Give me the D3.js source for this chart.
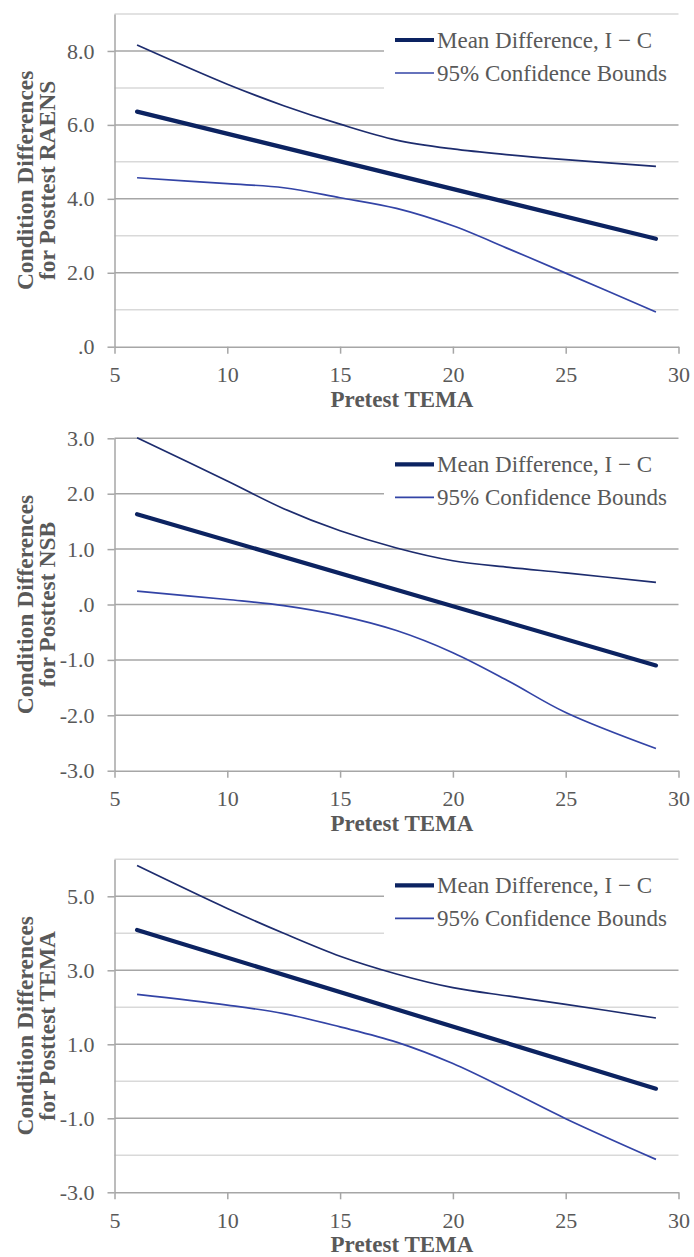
<!DOCTYPE html>
<html>
<head>
<meta charset="utf-8">
<script src="https://cdn.jsdelivr.net/npm/d3@7"></script>
<style>
  body { margin: 0; background: #ffffff; }
  svg { display: block; }
</style>
</head>
<body>
<script>
// ---------------- data ----------------
const xTicks = [5, 10, 15, 20, 25, 30];
const xTitle = "Pretest TEMA";
const yTitleLine1 = "Condition Differences";
const yTitleLine2 = ["for Posttest RAENS", "for Posttest NSB", "for Posttest TEMA"];
const legendLabels = ["Mean Difference, I \u2212 C", "95% Confidence Bounds"];

const boundX = [6, 10, 12.5, 15, 17.5, 20, 22.5, 25, 29];
const meanX = [6, 29];

// Panel 1: RAENS
const raensMean  = [6.36, 2.92];
const raensUpper = [8.16, 7.10, 6.52, 6.02, 5.59, 5.35, 5.19, 5.06, 4.88];
const raensLower = [4.57, 4.41, 4.30, 4.03, 3.74, 3.27, 2.64, 1.99, 0.94];
const raensMajor = [0, 2, 4, 6, 8];
const raensMajorLabels = [".0", "2.0", "4.0", "6.0", "8.0"];
const raensMinor = [1, 3, 5, 7, 9];
const raensDomain = [0, 9];

// Panel 2: NSB
const nsbMean  = [1.63, -1.10];
const nsbUpper = [3.01, 2.23, 1.73, 1.33, 1.02, 0.79, 0.67, 0.57, 0.40];
const nsbLower = [0.24, 0.09, -0.02, -0.20, -0.47, -0.87, -1.39, -1.95, -2.60];
const nsbMajor = [-3, -2, -1, 0, 1, 2, 3];
const nsbMajorLabels = ["-3.0", "-2.0", "-1.0", ".0", "1.0", "2.0", "3.0"];
const nsbMinor = [];
const nsbDomain = [-3, 3];

// Panel 3: TEMA
const temaMean  = [4.09, -0.20];
const temaUpper = [5.83, 4.67, 4.00, 3.38, 2.90, 2.53, 2.30, 2.08, 1.71];
const temaLower = [2.35, 2.06, 1.83, 1.47, 1.06, 0.48, -0.25, -1.01, -2.11];
const temaMajor = [-3, -1, 1, 3, 5];
const temaMajorLabels = ["-3.0", "-1.0", "1.0", "3.0", "5.0"];
const temaMinor = [-2, 0, 2, 4, 6];
const temaDomain = [-3, 6];

// ---------------- layout & style ----------------
const W = 694, H = 1257;
const plotLeft = 114.5, plotRight = 678.5;
const panels = [
  { top: 14,    bottom: 346.7,  domain: raensDomain, major: raensMajor, labels: raensMajorLabels, minor: raensMinor, title2: yTitleLine2[0], mean: raensMean, upper: raensUpper, lower: raensLower },
  { top: 438.3, bottom: 770.7,  domain: nsbDomain,   major: nsbMajor,   labels: nsbMajorLabels,   minor: nsbMinor,   title2: yTitleLine2[1], mean: nsbMean,   upper: nsbUpper,   lower: nsbLower },
  { top: 859.3, bottom: 1192.3, domain: temaDomain,  major: temaMajor,  labels: temaMajorLabels,  minor: temaMinor,  title2: yTitleLine2[2], mean: temaMean,  upper: temaUpper,  lower: temaLower }
];

const textColor = "#595959";
const majorGrid = "#a6a6a6";
const minorGrid = "#d9d9d9";
const axisColor = "#a6a6a6";
const meanColor = "#0c2361";
const upperColor = "#1d2c6e";
const lowerColor = "#3344a6";
const serif = "'Liberation Serif', 'Times New Roman', Times, serif";

const svg = d3.select("body").append("svg")
  .attr("width", W).attr("height", H)
  .attr("viewBox", `0 0 ${W} ${H}`);

const x = d3.scaleLinear().domain([5, 30]).range([plotLeft, plotRight]);

panels.forEach((p) => {
  const y = d3.scaleLinear().domain(p.domain).range([p.bottom, p.top]);
  const g = svg.append("g");

  // minor gridlines
  g.append("g").selectAll("line").data(p.minor).join("line")
    .attr("x1", plotLeft).attr("x2", plotRight)
    .attr("y1", d => y(d)).attr("y2", d => y(d))
    .attr("stroke", minorGrid).attr("stroke-width", 1.5);

  // major gridlines (except the one on the x axis)
  g.append("g").selectAll("line").data(p.major.filter(d => d !== p.domain[0])).join("line")
    .attr("x1", plotLeft).attr("x2", plotRight)
    .attr("y1", d => y(d)).attr("y2", d => y(d))
    .attr("stroke", majorGrid).attr("stroke-width", 1.5);

  // legend background (hides gridlines)
  const legTop = p.top;
  g.append("rect")
    .attr("x", 384).attr("y", legTop + 3)
    .attr("width", plotRight - 384 + 2).attr("height", 80)
    .attr("fill", "#ffffff");

  // y axis
  const yAxis = d3.axisLeft(y)
    .tickValues(p.major)
    .tickFormat((d, i) => p.labels[i])
    .tickSize(7).tickSizeOuter(0).tickPadding(13);
  const ya = g.append("g").attr("transform", `translate(${plotLeft},0)`).call(yAxis);
  ya.select(".domain").attr("stroke", axisColor).attr("stroke-width", 1.5);
  ya.selectAll(".tick line").attr("stroke", axisColor).attr("stroke-width", 1.5);
  ya.selectAll(".tick text").attr("fill", textColor)
    .style("font-family", serif).style("font-size", "22px");

  // x axis
  const xAxis = d3.axisBottom(x)
    .tickValues(xTicks).tickFormat(d3.format("d"))
    .tickSize(7).tickSizeOuter(0).tickPadding(13);
  const xa = g.append("g").attr("transform", `translate(0,${p.bottom})`).call(xAxis);
  xa.select(".domain").attr("stroke", axisColor).attr("stroke-width", 1.5);
  xa.selectAll(".tick line").attr("stroke", axisColor).attr("stroke-width", 1.5);
  xa.selectAll(".tick text").attr("fill", textColor)
    .style("font-family", serif).style("font-size", "22px");

  // x title
  g.append("text")
    .attr("x", 402).attr("y", p.bottom + 60)
    .attr("text-anchor", "middle")
    .attr("fill", textColor)
    .style("font-family", serif).style("font-size", "23px").style("font-weight", "bold")
    .text(xTitle);

  // y title (two lines, rotated)
  const cy = (p.top + p.bottom) / 2;
  const yt = g.append("text")
    .attr("transform", "rotate(-90)")
    .attr("text-anchor", "middle")
    .attr("fill", textColor)
    .style("font-family", serif).style("font-size", "23.5px").style("font-weight", "bold");
  yt.append("tspan").attr("x", -cy).attr("y", 33).text(yTitleLine1);
  yt.append("tspan").attr("x", -cy).attr("y", 55).text(p.title2);

  // series
  const curve = d3.line().x(d => x(d[0])).y(d => y(d[1])).curve(d3.curveCatmullRom.alpha(0.5));
  g.append("path")
    .attr("d", curve(d3.zip(boundX, p.upper)))
    .attr("fill", "none").attr("stroke", upperColor).attr("stroke-width", 1.7);
  g.append("path")
    .attr("d", curve(d3.zip(boundX, p.lower)))
    .attr("fill", "none").attr("stroke", lowerColor).attr("stroke-width", 1.7);
  g.append("path")
    .attr("d", d3.line().x(d => x(d[0])).y(d => y(d[1]))(d3.zip(meanX, p.mean)))
    .attr("fill", "none").attr("stroke", meanColor).attr("stroke-width", 4.2)
    .attr("stroke-linecap", "round");

  // legend
  const legItems = [
    { label: legendLabels[0], color: meanColor, w: 4.2, dy: 26 },
    { label: legendLabels[1], color: lowerColor, w: 1.7, dy: 59 }
  ];
  const lg = g.append("g");
  legItems.forEach(it => {
    lg.append("line")
      .attr("x1", 395).attr("x2", 434)
      .attr("y1", legTop + it.dy).attr("y2", legTop + it.dy)
      .attr("stroke", it.color).attr("stroke-width", it.w);
    lg.append("text")
      .attr("x", 437).attr("y", legTop + it.dy + 8)
      .attr("fill", textColor)
      .style("font-family", serif).style("font-size", "23px")
      .text(it.label);
  });
});
</script>
</body>
</html>
